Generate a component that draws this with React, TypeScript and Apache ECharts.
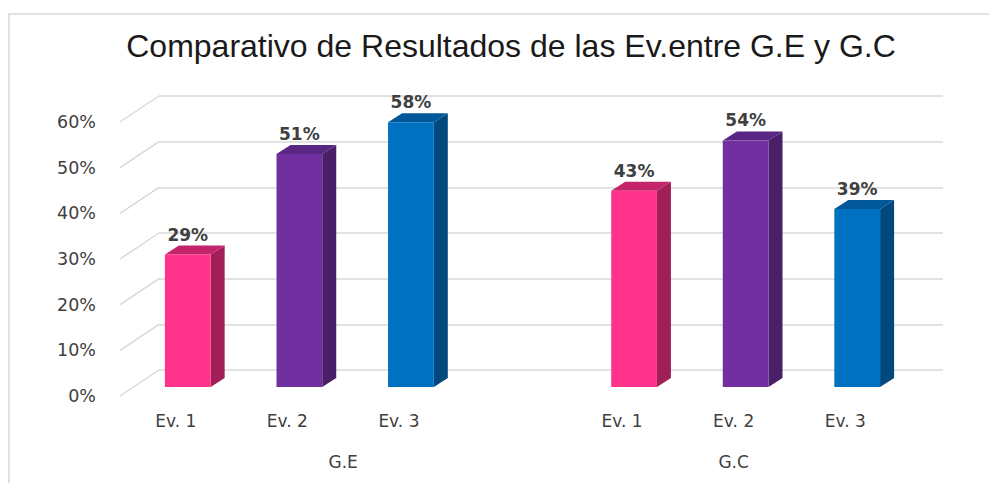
import React, { useEffect, useRef } from "react";
import * as echarts from "echarts";

const titleText = "Comparativo de Resultados de las Ev.entre G.E y G.C";
const evaluations = ["Ev. 1", "Ev. 2", "Ev. 3"];
const groups = ["G.E", "G.C"];
const groupSizes = [4, 3]; // categories in each group (G.E holds a trailing empty slot)
const valuesGE = [29, 51, 58];
const valuesGC = [43, 54, 39];
const yTicks = [0, 10, 20, 30, 40, 50, 60];

const frontColors = ["#FF3389", "#7030A0", "#0070C0"];
const sideColors = ["#A11F57", "#4A1F68", "#00487D"];
const topColors = ["#C4246C", "#5A2683", "#005799"];

const DEPTH_X = 39;
const DEPTH_Y = -26;
const BAR_DX = 12;
const BAR_DY = -9;
const BAR_DEPTH_X = 14;
const BAR_DEPTH_Y = -9;

export default function App() {
  const ref = useRef<HTMLDivElement>(null);

  useEffect(() => {
    if (!ref.current) return;
    const chart = echarts.init(ref.current, undefined, { renderer: "svg" });

    const categories: string[] = [...evaluations, "", ...evaluations];
    const barData: number[][] = [];
    valuesGE.forEach((v, i) => barData.push([i, v, i]));
    valuesGC.forEach((v, i) => barData.push([groupSizes[0] + i, v, i]));

    const groupCenters: number[] = [];
    let acc = 0;
    groupSizes.forEach((s) => {
      groupCenters.push(acc + s / 2);
      acc += s;
    });

    const option: any = {
      animation: false,
      backgroundColor: "#ffffff",
      title: {
        text: titleText,
        left: 506,
        top: 25,
        textAlign: "center",
        textStyle: {
          fontFamily: "Liberation Sans",
          fontSize: 32,
          fontWeight: "normal",
          color: "#1a1a1a",
        },
      },
      graphic: [
        {
          type: "rect",
          shape: { x: 9, y: 14, width: 1000, height: 500 },
          style: { fill: "none", stroke: "#d9d9d9", lineWidth: 1.5 },
          silent: true,
          z: -1,
        },
      ],
      grid: [
        { left: 120, right: 88, top: 122, bottom: 87 },
        { left: 120 + DEPTH_X, right: 88 - DEPTH_X - 3, top: 122 + DEPTH_Y, bottom: 87 - DEPTH_Y },
      ],
      xAxis: [
        {
          gridIndex: 0,
          type: "category",
          data: categories,
          axisLine: { show: false },
          axisTick: { show: false },
          axisLabel: {
            interval: 0,
            margin: 16,
            fontFamily: "DejaVu Sans",
            fontSize: 17,
            color: "#404040",
          },
        },
        {
          gridIndex: 0,
          type: "value",
          min: 0,
          max: categories.length,
          interval: 0.5,
          position: "bottom",
          axisLine: { show: false },
          axisTick: { show: false },
          splitLine: { show: false },
          axisLabel: {
            margin: 57,
            fontFamily: "DejaVu Sans",
            fontSize: 17,
            color: "#404040",
            showMinLabel: true,
            showMaxLabel: true,
            formatter: (v: number) => {
              const k = groupCenters.findIndex((c) => Math.abs(c - v) < 1e-6);
              return k >= 0 ? groups[k] : "";
            },
          },
        },
        { gridIndex: 1, type: "value", min: 0, max: 1, show: false },
      ],
      yAxis: [
        {
          gridIndex: 0,
          type: "value",
          min: 0,
          max: 60,
          interval: 10,
          axisLine: { show: false },
          axisTick: { show: false },
          splitLine: { show: false },
          axisLabel: {
            margin: 24,
            formatter: "{value}%",
            fontFamily: "DejaVu Sans",
            fontSize: 17.5,
            color: "#404040",
          },
        },
        {
          gridIndex: 1,
          type: "value",
          min: 0,
          max: 60,
          interval: 10,
          axisLine: { show: false },
          axisTick: { show: false },
          axisLabel: { show: false },
          splitLine: { show: true, lineStyle: { color: "#d9d9d9", width: 1.5 } },
        },
      ],
      series: [
        {
          type: "custom",
          name: "floor",
          xAxisIndex: 0,
          yAxisIndex: 0,
          silent: true,
          clip: false,
          data: yTicks.map((v) => [0, v]),
          renderItem: (params: any, api: any) => {
            const y = api.coord([0, api.value(1)])[1];
            const x = params.coordSys.x;
            return {
              type: "line",
              shape: { x1: x, y1: y, x2: x + DEPTH_X, y2: y + DEPTH_Y },
              style: { stroke: "#d9d9d9", lineWidth: 1.5 },
            };
          },
          z: 1,
        },
        {
          type: "custom",
          name: "bars",
          xAxisIndex: 0,
          yAxisIndex: 0,
          clip: false,
          data: barData,
          renderItem: (params: any, api: any) => {
            const idx = api.value(0);
            const val = api.value(1);
            const ci = api.value(2);
            const top = api.coord([idx, val]);
            const base = api.coord([idx, 0]);
            const w = api.size([1, 0])[0] * 0.41;
            const x0 = top[0] - w / 2 + BAR_DX;
            const x1 = x0 + w;
            const yT = top[1] + BAR_DY;
            const yB = base[1] + BAR_DY;
            return {
              type: "group",
              children: [
                {
                  type: "polygon",
                  shape: {
                    points: [
                      [x1, yT],
                      [x1 + BAR_DEPTH_X, yT + BAR_DEPTH_Y],
                      [x1 + BAR_DEPTH_X, yB + BAR_DEPTH_Y],
                      [x1, yB],
                    ],
                  },
                  style: { fill: sideColors[ci] },
                },
                {
                  type: "polygon",
                  shape: {
                    points: [
                      [x0, yT],
                      [x0 + BAR_DEPTH_X, yT + BAR_DEPTH_Y],
                      [x1 + BAR_DEPTH_X, yT + BAR_DEPTH_Y],
                      [x1, yT],
                    ],
                  },
                  style: { fill: topColors[ci] },
                },
                {
                  type: "rect",
                  shape: { x: x0, y: yT, width: w, height: yB - yT },
                  style: { fill: frontColors[ci] },
                },
                {
                  type: "text",
                  x: x0 + w / 2,
                  y: yT - 20,
                  style: {
                    text: val + "%",
                    fill: "#404040",
                    font: "bold 17px 'DejaVu Sans'",
                    align: "center",
                    verticalAlign: "middle",
                  },
                },
              ],
            };
          },
          z: 2,
        },
      ],
    };

    chart.setOption(option);
    return () => chart.dispose();
  }, []);

  return (
    <div
      ref={ref}
      style={{ position: "absolute", left: 0, top: 0, width: 989, height: 483 }}
    />
  );
}
